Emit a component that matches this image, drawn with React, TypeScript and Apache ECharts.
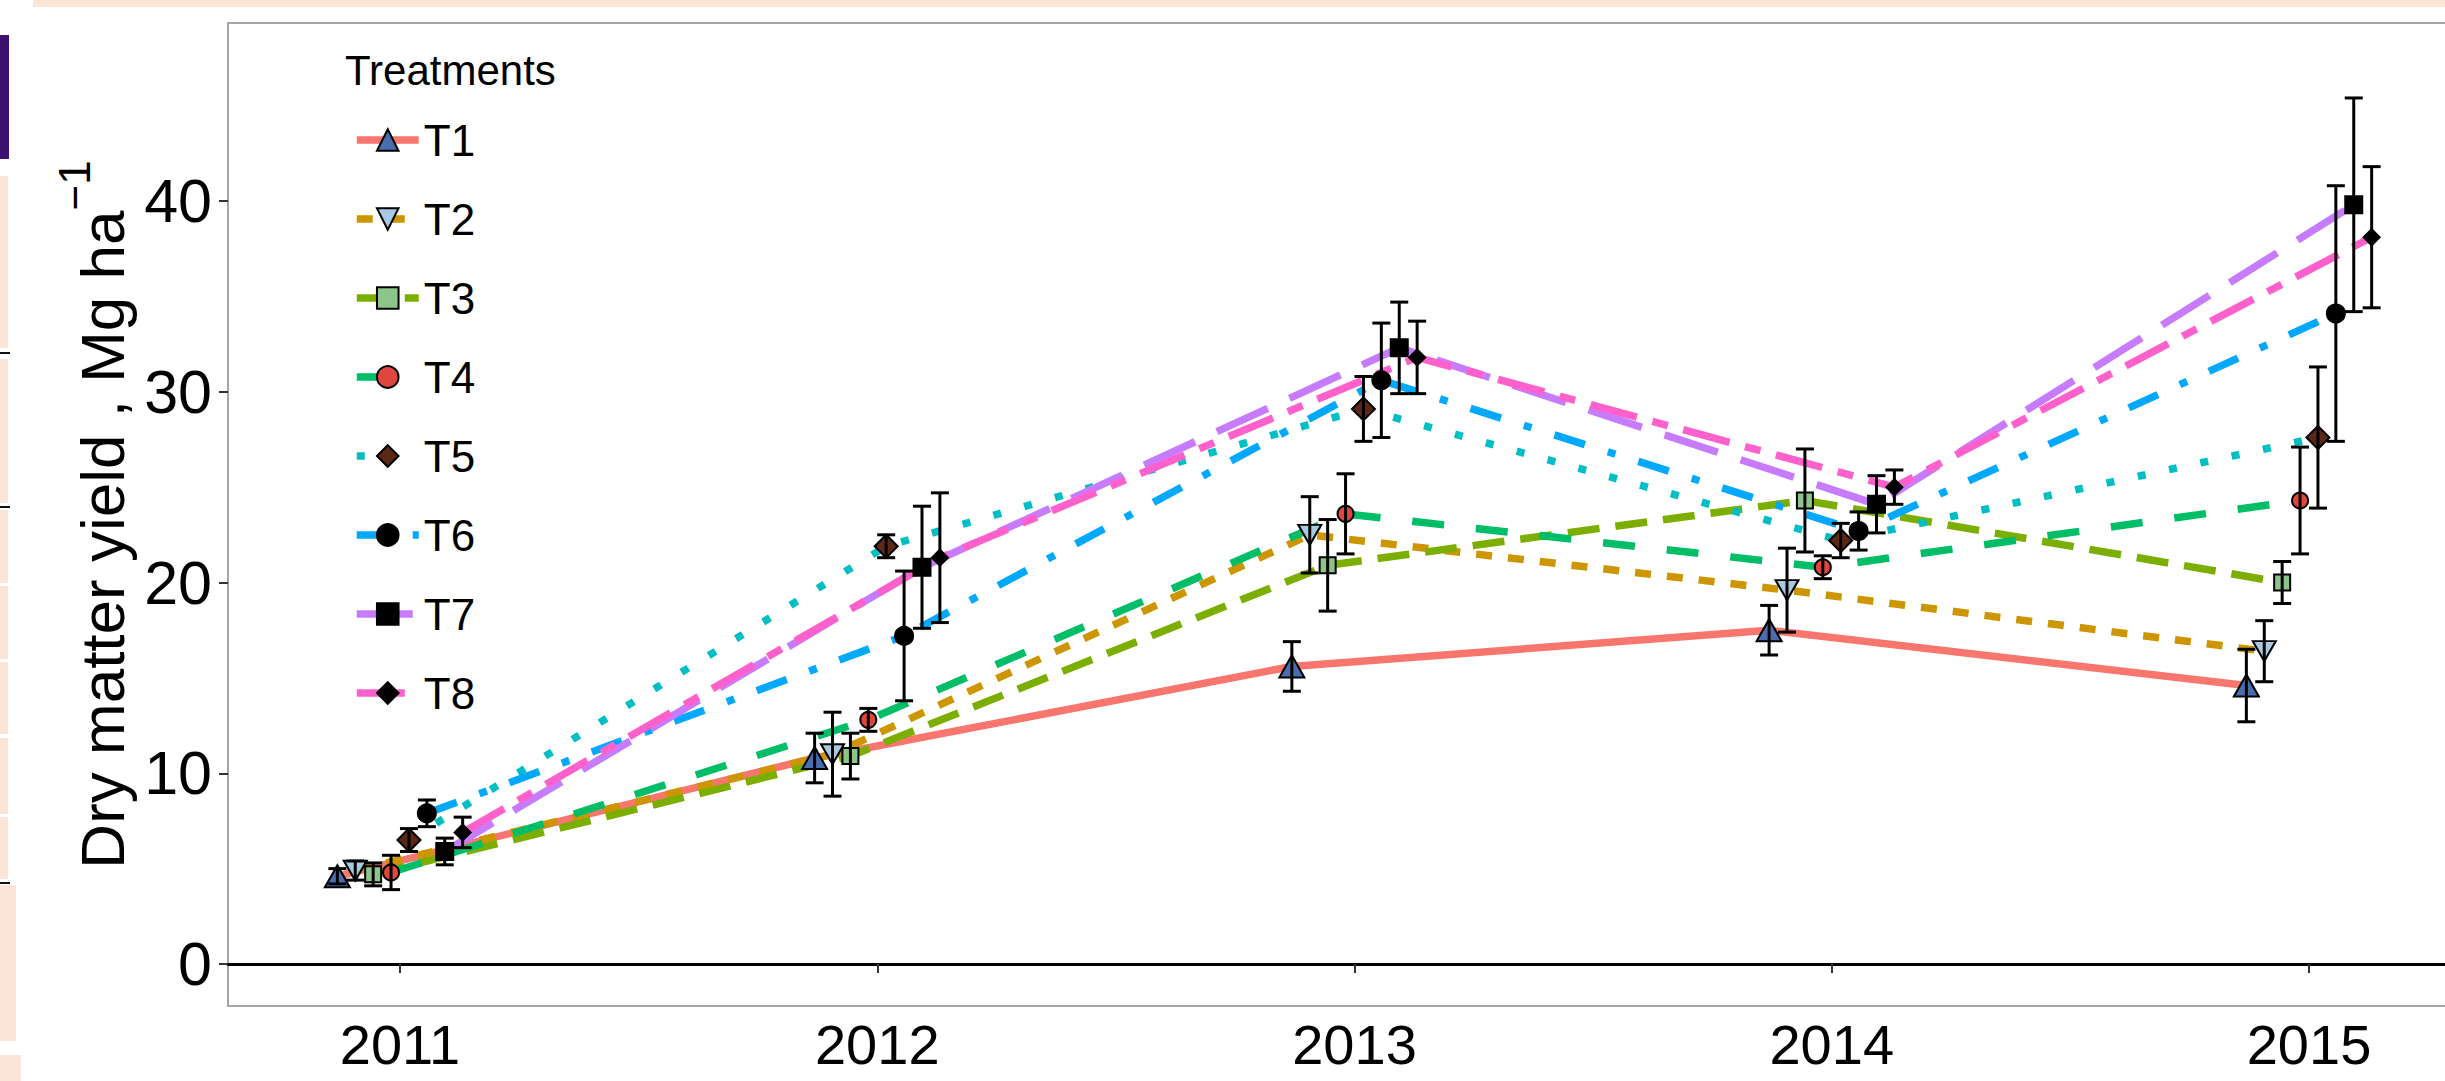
import React, { useEffect, useRef } from "react";
import * as echarts from "echarts";

// ---------------- data ----------------
const years = [2011, 2012, 2013, 2014, 2015];
const treatments = ["T1", "T2", "T3", "T4", "T5", "T6", "T7", "T8"];

const meanT1 = [4.6, 10.8, 15.6, 17.5, 14.6];
const meanT2 = [4.9, 11.0, 22.5, 19.6, 16.4];
const meanT3 = [4.7, 10.9, 20.9, 24.3, 20.0];
const meanT4 = [4.8, 12.8, 23.6, 20.8, 24.3];
const meanT5 = [6.5, 21.9, 29.1, 22.2, 27.6];
const meanT6 = [7.9, 17.2, 30.6, 22.7, 34.1];
const meanT7 = [5.9, 20.8, 32.3, 24.1, 39.8];
const meanT8 = [6.9, 21.3, 31.8, 25.0, 38.1];

const errT1 = [0.4, 1.3, 1.3, 1.3, 1.9];
const errT2 = [0.5, 2.2, 2.0, 2.2, 1.6];
const errT3 = [0.6, 1.2, 2.4, 2.7, 1.1];
const errT4 = [0.9, 0.6, 2.1, 0.6, 2.8];
const errT5 = [0.6, 0.6, 1.7, 0.9, 3.7];
const errT6 = [0.7, 3.4, 3.0, 1.0, 6.7];
const errT7 = [0.7, 3.2, 2.4, 1.5, 5.6];
const errT8 = [0.8, 3.4, 1.9, 0.9, 3.7];

const yTicks = [0, 10, 20, 30, 40];
const xTicks = [2011, 2012, 2013, 2014, 2015];

const means = [meanT1, meanT2, meanT3, meanT4, meanT5, meanT6, meanT7, meanT8];
const errs = [errT1, errT2, errT3, errT4, errT5, errT6, errT7, errT8];

// ---------------- styles ----------------
const lineColors = ["#F8766D", "#CD9600", "#7CAE00", "#00BE67", "#00BFC4", "#00A9FF", "#C77CFF", "#FF61CC"];
const dashes: any[] = [
  "solid",
  [16, 16],
  [32, 16],
  [32, 32],
  [8, 24],
  [32, 24, 8, 24],
  [56, 24],
  [48, 16, 16, 16],
];
const symbols = ["triangle", "triangle", "rect", "circle", "diamond", "circle", "rect", "diamond"];
const symbolRot = [0, 180, 0, 0, 0, 0, 0, 0];
const symbolSizes: any[] = [[25, 22], [23, 20], 16, 16, 23, 18, 17, 16];
const fills = ["#4A6EAD", "#A9C9E0", "#8CC58A", "#E0463E", "#5A2814", "#000000", "#000000", "#000000"];

const FONT = '"Liberation Sans", Arial, sans-serif';
const DODGE = 0.3;

export default function App() {
  const ref = useRef<HTMLDivElement>(null);

  useEffect(() => {
    if (!ref.current) return;
    const chart = echarts.init(ref.current, undefined, { renderer: "svg" });

    const offset = (i: number) => (i - (treatments.length - 1) / 2) * (DODGE / treatments.length);

    const lineSeries = treatments.map((name, i) => ({
      type: "line",
      name,
      z: 2,
      silent: true,
      showSymbol: false,
      symbol: symbols[i],
      symbolRotate: symbolRot[i],
      symbolSize: symbolSizes[i],
      data: years.map((yr, j) => [yr + offset(i), means[i][j]]),
      lineStyle: { color: lineColors[i], width: 7.5, type: dashes[i], cap: "butt" },
      itemStyle: { color: fills[i], borderColor: "#000", borderWidth: 2 },
      color: lineColors[i],
    }));

    const pointSeries = treatments.map((name, i) => ({
      type: "scatter",
      name: name + " points",
      z: 3,
      silent: true,
      symbol: symbols[i],
      symbolRotate: symbolRot[i],
      symbolSize: symbolSizes[i],
      data: years.map((yr, j) => [yr + offset(i), means[i][j]]),
      itemStyle: { color: fills[i], borderColor: "#000", borderWidth: 2, opacity: 1 },
    }));

    const errData: number[][] = [];
    treatments.forEach((_, i) => {
      years.forEach((yr, j) => errData.push([yr + offset(i), means[i][j], errs[i][j]]));
    });

    const errSeries = {
      type: "custom",
      name: "error",
      z: 4,
      silent: true,
      data: errData,
      encode: { x: 0, y: 1 },
      renderItem: (params: any, api: any) => {
        const x = api.value(0);
        const y = api.value(1);
        const e = api.value(2);
        const top = api.coord([x, y + e]);
        const bot = api.coord([x, y - e]);
        const hw = 9;
        const st = { stroke: "#000", lineWidth: 3 };
        return {
          type: "group",
          children: [
            { type: "line", shape: { x1: top[0], y1: top[1], x2: bot[0], y2: bot[1] }, style: st },
            { type: "line", shape: { x1: top[0] - hw, y1: top[1], x2: top[0] + hw, y2: top[1] }, style: st },
            { type: "line", shape: { x1: bot[0] - hw, y1: bot[1], x2: bot[0] + hw, y2: bot[1] }, style: st },
          ],
        };
      },
    };

    const peach = "#FBE5D6";
    const deco = [
      { x: 33, y: 0, w: 2440, h: 7, c: peach },
      { x: 0, y: 35, w: 9, h: 124, c: "#3B1270" },
      { x: 0, y: 176, w: 8, h: 172, c: peach },
      { x: 0, y: 352, w: 10, h: 2, c: "#111" },
      { x: 0, y: 359, w: 8, h: 144, c: peach },
      { x: 0, y: 506, w: 10, h: 2, c: "#111" },
      { x: 0, y: 510, w: 8, h: 73, c: peach },
      { x: 0, y: 586, w: 8, h: 73, c: peach },
      { x: 0, y: 662, w: 8, h: 72, c: peach },
      { x: 0, y: 738, w: 8, h: 76, c: peach },
      { x: 0, y: 817, w: 8, h: 62, c: peach },
      { x: 0, y: 882, w: 10, h: 2, c: "#111" },
      { x: 0, y: 885, w: 16, h: 156, c: peach },
      { x: 0, y: 1055, w: 21, h: 26, c: peach },
    ].map((r) => ({
      type: "rect",
      silent: true,
      z: -10,
      shape: { x: r.x, y: r.y, width: r.w, height: r.h },
      style: { fill: r.c },
    }));

    const option: any = {
      animation: false,
      backgroundColor: "#ffffff",
      textStyle: { fontFamily: FONT },
      grid: {
        left: 228,
        top: 23,
        width: 2230,
        height: 983,
        show: true,
        borderColor: "#A6A6A6",
        borderWidth: 2,
        backgroundColor: "#ffffff",
        containLabel: false,
      },
      title: {
        text: "Treatments",
        left: 340,
        top: 44,
        textStyle: { fontFamily: FONT, fontSize: 42, fontWeight: "normal", color: "#000" },
      },
      legend: {
        orient: "vertical",
        left: 348,
        top: 112,
        itemWidth: 62,
        itemHeight: 27,
        itemGap: 33,
        selectedMode: false,
        textStyle: { fontFamily: FONT, fontSize: 44, color: "#000", lineHeight: 46 },
        data: treatments.map((name, i) => ({
          name,
          lineStyle: { color: lineColors[i], width: 7.5, type: dashes[i], cap: "butt" },
          itemStyle: { color: fills[i], borderColor: "#000", borderWidth: 2 },
        })),
      },
      xAxis: {
        type: "value",
        min: 2010.6396,
        max: 2015.3122,
        splitLine: { show: false },
        axisLine: { show: true, lineStyle: { color: "#000", width: 3 } },
        axisTick: { show: true, customValues: xTicks, length: 9, lineStyle: { color: "#333", width: 2 } },
        axisLabel: {
          customValues: xTicks,
          fontFamily: FONT,
          fontSize: 56,
          lineHeight: 56,
          color: "#000",
          margin: 10,
          formatter: (v: number) => String(Math.round(v)),
        },
      },
      yAxis: {
        type: "value",
        min: -2.2,
        max: 49.33,
        splitLine: { show: false },
        axisLine: { show: true, lineStyle: { color: "#A6A6A6", width: 2 } },
        axisTick: { show: true, customValues: yTicks, length: 9, lineStyle: { color: "#333", width: 2 } },
        axisLabel: { customValues: yTicks, fontFamily: FONT, fontSize: 61, color: "#000", margin: 16 },
        name: "{m|Dry matter yield , Mg ha}{s|\u22121}",
        nameLocation: "middle",
        nameRotate: 90,
        nameGap: 69,
        nameTextStyle: {
          fontFamily: FONT,
          color: "#000",
          rich: {
            m: { fontFamily: FONT, fontSize: 62, lineHeight: 100, color: "#000" },
            s: { fontFamily: FONT, fontSize: 44, lineHeight: 44, verticalAlign: "top", color: "#000" },
          },
        },
      },
      graphic: deco,
      series: [...lineSeries, ...pointSeries, errSeries],
    };

    chart.setOption(option);
    return () => chart.dispose();
  }, []);

  return (
    <div
      ref={ref}
      style={{ position: "fixed", left: 0, top: 0, width: 2480, height: 1081, background: "#fff" }}
    />
  );
}
